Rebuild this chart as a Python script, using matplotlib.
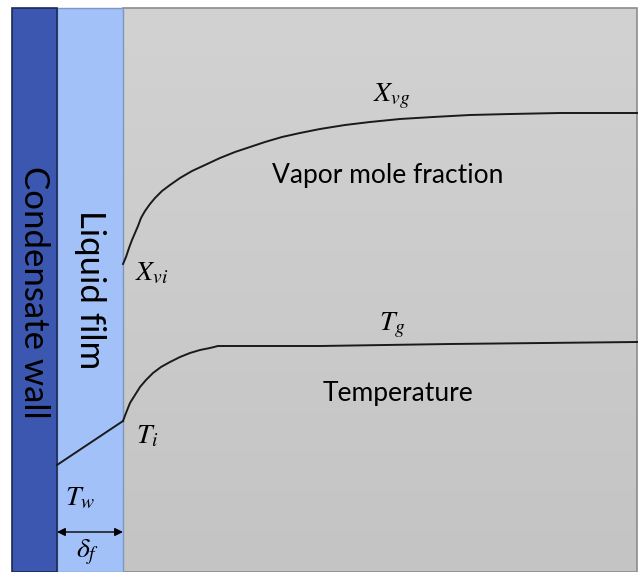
import numpy as np
import matplotlib.pyplot as plt
from matplotlib.colors import LinearSegmentedColormap
from matplotlib.patches import Rectangle

plt.rcParams['mathtext.fontset'] = 'stix'

# Layer boundaries (drawing units, y grows downward)
wall_x = [12, 57]
film_x = [57, 123]
gas_x = [123, 637]
top_y, bottom_y = 8, 572

# Vapor mole fraction profile in the gas
vapor_x = [123, 126, 129, 132, 135, 138, 141, 145, 150, 155, 162, 170, 180, 192,
           205, 220, 235, 250, 265, 282, 300, 320, 345, 370, 400, 433, 470, 510,
           560, 637]
vapor_y = [264, 257, 248, 240, 233, 226, 218, 211, 204, 198, 191, 185, 178, 171,
           165, 158, 152, 147, 142, 137, 133, 129, 125, 122, 119, 117, 115, 114,
           113, 113]

# Temperature: linear through the film, then boundary layer in the gas
film_temp_x = [57, 123]
film_temp_y = [465, 421]
temp_x = [123, 126, 130, 135, 140, 146, 153, 161, 170, 180, 190, 200, 210, 218,
          260, 320, 450, 637]
temp_y = [421, 413, 403, 395, 387, 380, 373, 367, 362, 357, 353, 350, 348, 346,
          346, 346, 344, 342]

fig = plt.figure(figsize=(6.38, 5.72), dpi=100)
ax = fig.add_axes([0, 0, 1, 1])
ax.set_xlim(0, 638)
ax.set_ylim(572, 0)
ax.axis('off')

# gas region with a soft vertical shade
shade = np.linspace(0, 1, 256).reshape(-1, 1)
gas_cmap = LinearSegmentedColormap.from_list('gas', ['#d2d2d2', '#c4c4c4'])
ax.imshow(shade, cmap=gas_cmap, aspect='auto',
          extent=(gas_x[0], gas_x[1], bottom_y, top_y), zorder=0)
ax.add_patch(Rectangle((gas_x[0], top_y), gas_x[1] - gas_x[0], bottom_y - top_y,
                       fill=False, edgecolor='#8c8c8c', lw=1.2, zorder=1))

# liquid film and wall
ax.add_patch(Rectangle((film_x[0], top_y), film_x[1] - film_x[0], bottom_y - top_y,
                       facecolor='#a2c1f8', edgecolor='#7f96c0', lw=1.0, zorder=1))
ax.add_patch(Rectangle((wall_x[0], top_y), wall_x[1] - wall_x[0], bottom_y - top_y,
                       facecolor='#3b57b0', edgecolor='#1d2a55', lw=1.2, zorder=1))

# profiles
ax.plot(vapor_x, vapor_y, color='#1a1a1a', lw=1.4, zorder=3, solid_joinstyle='round')
ax.plot(film_temp_x, film_temp_y, color='#1a1a1a', lw=1.4, zorder=3)
ax.plot(temp_x, temp_y, color='#1a1a1a', lw=1.4, zorder=3, solid_joinstyle='round')

# film thickness arrow
ax.annotate('', xy=(film_x[0], 532), xytext=(film_x[1], 532),
            arrowprops=dict(arrowstyle='<|-|>', color='black', lw=1.0,
                            mutation_scale=12, shrinkA=0, shrinkB=0), zorder=4)

sans = 'Lato'
ax.text(34, 292, 'Condensate wall', rotation=-90, ha='center', va='center',
        fontsize=25, family=sans, color='black')
ax.text(90, 290, 'Liquid film', rotation=-90, ha='center', va='center',
        fontsize=25, family=sans, color='black')
ax.text(388, 175, 'Vapor mole fraction', ha='center', va='center',
        fontsize=19, family=sans)
ax.text(398, 393, 'Temperature', ha='center', va='center',
        fontsize=19, family=sans)

ax.text(392, 96, r'$X_{vg}$', ha='center', va='center', fontsize=20)
ax.text(152, 272, r'$X_{vi}$', ha='center', va='center', fontsize=20)
ax.text(392, 325, r'$T_{g}$', ha='center', va='center', fontsize=20)
ax.text(147, 435, r'$T_{i}$', ha='center', va='center', fontsize=20)
ax.text(80, 497, r'$T_{w}$', ha='center', va='center', fontsize=20)
ax.text(88, 552, r'$\delta_{f}$', ha='center', va='center', fontsize=20)

fig.savefig('out.png', dpi=100)
